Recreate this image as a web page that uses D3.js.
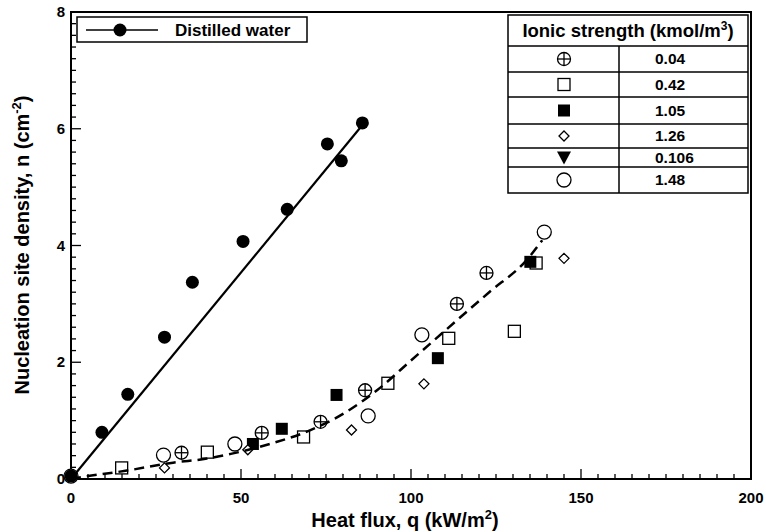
<!DOCTYPE html>
<html>
<head>
<meta charset="utf-8">
<script src="https://cdn.jsdelivr.net/npm/d3@7"></script>
<style>
body { margin:0; background:#fff; }
text { font-family: "Liberation Sans", Arial, sans-serif; font-weight: bold; fill:#000; }
</style>
</head>
<body>
<div class="graph"></div>
<script>
// distilled water points (q kW/m2, n cm-2)
var waterQ = [0, 9.1, 16.7, 27.5, 35.7, 50.6, 63.6, 75.4, 79.5, 85.7];
var waterN = [0.05, 0.80, 1.45, 2.43, 3.37, 4.07, 4.62, 5.74, 5.45, 6.10];
var waterFit = [[0, 0], [86.5, 6.12]];

// ionic strength series
var ionicLabels = ["0.04", "0.42", "1.05", "1.26", "0.106", "1.48"];
var ionicSymbols = ["crossCircle", "openSquare", "filledSquare", "diamond", "triangle", "openCircle"];
var s004Q = [32.5, 56.1, 73.4, 86.5, 113.5, 122.2];
var s004N = [0.45, 0.79, 0.98, 1.52, 3.00, 3.53];
var s042Q = [14.9, 40.1, 68.4, 93.2, 111.1, 130.4, 136.8];
var s042N = [0.19, 0.46, 0.72, 1.64, 2.41, 2.53, 3.70];
var s105Q = [53.5, 62.0, 78.1, 107.9, 135.1];
var s105N = [0.60, 0.86, 1.44, 2.07, 3.72];
var s126Q = [27.5, 52.0, 82.5, 103.8, 145.0];
var s126N = [0.19, 0.50, 0.84, 1.63, 3.78];
var s0106Q = [];
var s0106N = [];
var s148Q = [0, 27.2, 48.2, 87.4, 103.2, 139.2];
var s148N = [0.05, 0.41, 0.60, 1.08, 2.47, 4.23];
var ionicQ = [s004Q, s042Q, s105Q, s126Q, s0106Q, s148Q];
var ionicN = [s004N, s042N, s105N, s126N, s0106N, s148N];

// dashed trend curve
var trendQ = [0, 4, 16, 30, 40, 47, 59, 68, 81, 90, 100, 123, 134, 138.6];
var trendN = [0, 0.04, 0.14, 0.28, 0.35, 0.43, 0.61, 0.78, 1.15, 1.52, 2.03, 3.20, 3.75, 4.09];

var xTicks = [0, 50, 100, 150, 200];
var yTicks = [0, 2, 4, 6, 8];

var width = 766, height = 532;
var pLeft = 71, pRight = 751, pTop = 12, pBottom = 479;

var svg = d3.select(".graph").append("svg")
    .attr("width", width)
    .attr("height", height);

var x = d3.scaleLinear().domain([0, 200]).range([pLeft, pRight]);
var y = d3.scaleLinear().domain([0, 8]).range([pBottom, pTop]);

// frame
svg.append("rect")
    .attr("x", pLeft).attr("y", pTop)
    .attr("width", pRight - pLeft).attr("height", pBottom - pTop)
    .attr("fill", "none").attr("stroke", "#000").attr("stroke-width", 2);

// ticks, pointing inside
d3.range(0, 201, 5).forEach(function(v){
    var major = v % 50 == 0;
    svg.append("line")
        .attr("x1", x(v)).attr("x2", x(v))
        .attr("y1", pBottom).attr("y2", pBottom - (major ? 10 : 5))
        .attr("stroke", "#000").attr("stroke-width", 1.3);
});
d3.range(0, 41).forEach(function(i){
    var v = i * 0.2;
    var major = i % 10 == 0;
    svg.append("line")
        .attr("x1", pLeft).attr("x2", pLeft + (major ? 10 : 5))
        .attr("y1", y(v)).attr("y2", y(v))
        .attr("stroke", "#000").attr("stroke-width", 1.3);
});

svg.selectAll(".xlab").data(xTicks).enter().append("text")
    .attr("x", function(d){ return x(d); })
    .attr("y", 503)
    .attr("text-anchor", "middle")
    .attr("font-size", 15)
    .text(function(d){ return d; });

svg.selectAll(".ylab").data(yTicks).enter().append("text")
    .attr("x", 65)
    .attr("y", function(d){ return y(d) + 5; })
    .attr("text-anchor", "end")
    .attr("font-size", 15)
    .text(function(d){ return d; });

// axis titles
var xt = svg.append("text")
    .attr("x", 405).attr("y", 527)
    .attr("text-anchor", "middle").attr("font-size", 20);
xt.append("tspan").text("Heat flux, q (kW/m");
xt.append("tspan").attr("dy", -8).attr("font-size", 13).text("2");
xt.append("tspan").attr("dy", 8).text(")");

var yt = svg.append("text")
    .attr("transform", "translate(29,245) rotate(-90)")
    .attr("text-anchor", "middle").attr("font-size", 20);
yt.append("tspan").text("Nucleation site density, n (cm");
yt.append("tspan").attr("dy", -8).attr("font-size", 13).text("-2");
yt.append("tspan").attr("dy", 8).text(")");

// symbols
function drawSymbol(g, type, cx, cy){
    if(type == "crossCircle"){
        g.append("circle").attr("cx", cx).attr("cy", cy).attr("r", 6.5)
            .attr("fill", "#fff").attr("stroke", "#000").attr("stroke-width", 1.3);
        g.append("line").attr("x1", cx - 6.5).attr("x2", cx + 6.5).attr("y1", cy).attr("y2", cy)
            .attr("stroke", "#000").attr("stroke-width", 1.3);
        g.append("line").attr("x1", cx).attr("x2", cx).attr("y1", cy - 6.5).attr("y2", cy + 6.5)
            .attr("stroke", "#000").attr("stroke-width", 1.3);
    } else if(type == "openSquare"){
        g.append("rect").attr("x", cx - 6).attr("y", cy - 6).attr("width", 12).attr("height", 12)
            .attr("fill", "#fff").attr("stroke", "#000").attr("stroke-width", 1.3);
    } else if(type == "filledSquare"){
        g.append("rect").attr("x", cx - 6).attr("y", cy - 6).attr("width", 12).attr("height", 12)
            .attr("fill", "#000");
    } else if(type == "diamond"){
        g.append("path").attr("d", "M" + cx + "," + (cy - 5) + "L" + (cx + 5) + "," + cy + "L" + cx + "," + (cy + 5) + "L" + (cx - 5) + "," + cy + "Z")
            .attr("fill", "#fff").attr("stroke", "#000").attr("stroke-width", 1.3);
    } else if(type == "triangle"){
        g.append("path").attr("d", "M" + (cx - 7) + "," + (cy - 6) + "L" + (cx + 7) + "," + (cy - 6) + "L" + cx + "," + (cy + 7) + "Z")
            .attr("fill", "#000");
    } else if(type == "openCircle"){
        g.append("circle").attr("cx", cx).attr("cy", cy).attr("r", 7)
            .attr("fill", "#fff").attr("stroke", "#000").attr("stroke-width", 1.3);
    }
}

var pts = svg.append("g");
ionicQ.forEach(function(qs, k){
    qs.forEach(function(q, i){
        drawSymbol(pts, ionicSymbols[k], x(q), y(ionicN[k][i]));
    });
});

// dashed trend
svg.append("path")
    .datum(trendQ.map(function(q, i){ return [q, trendN[i]]; }))
    .attr("d", d3.line()
        .x(function(d){ return x(d[0]); })
        .y(function(d){ return y(d[1]); })
        .curve(d3.curveMonotoneX))
    .attr("fill", "none").attr("stroke", "#000")
    .attr("stroke-width", 2.5).attr("stroke-dasharray", "10,6");

// distilled water
svg.append("path")
    .datum(waterFit)
    .attr("d", d3.line().x(function(d){ return x(d[0]); }).y(function(d){ return y(d[1]); }))
    .attr("fill", "none").attr("stroke", "#000").attr("stroke-width", 2.2);

svg.selectAll(".water").data(waterQ).enter().append("circle")
    .attr("cx", function(d){ return x(d); })
    .attr("cy", function(d, i){ return y(waterN[i]); })
    .attr("r", 6.5)
    .attr("fill", "#000");

// distilled water legend
var lg = svg.append("g");
lg.append("rect").attr("x", 77).attr("y", 17).attr("width", 230).attr("height", 25)
    .attr("fill", "#fff").attr("stroke", "#000").attr("stroke-width", 1.5);
lg.append("line").attr("x1", 86).attr("x2", 158).attr("y1", 30).attr("y2", 30)
    .attr("stroke", "#000").attr("stroke-width", 1.5);
lg.append("circle").attr("cx", 120).attr("cy", 30).attr("r", 6.5).attr("fill", "#000");
lg.append("text").attr("x", 175).attr("y", 36).attr("font-size", 17).text("Distilled water");

// ionic strength table
var tx0 = 508, tx1 = 748, tcol = 619;
var rowY = [15, 46, 72, 97, 124, 148, 167, 193];
var tg = svg.append("g");
tg.append("rect").attr("x", tx0).attr("y", rowY[0]).attr("width", tx1 - tx0).attr("height", rowY[7] - rowY[0])
    .attr("fill", "#fff").attr("stroke", "#000").attr("stroke-width", 1.5);
rowY.slice(1, 7).forEach(function(ry){
    tg.append("line").attr("x1", tx0).attr("x2", tx1).attr("y1", ry).attr("y2", ry)
        .attr("stroke", "#000").attr("stroke-width", 1.5);
});
tg.append("line").attr("x1", tcol).attr("x2", tcol).attr("y1", rowY[1]).attr("y2", rowY[7])
    .attr("stroke", "#000").attr("stroke-width", 1.5);
var ht = tg.append("text").attr("x", (tx0 + tx1) / 2).attr("y", 37)
    .attr("text-anchor", "middle").attr("font-size", 18.5);
ht.append("tspan").text("Ionic strength (kmol/m");
ht.append("tspan").attr("dy", -7).attr("font-size", 12).text("3");
ht.append("tspan").attr("dy", 7).text(")");
ionicLabels.forEach(function(lab, i){
    var cy = (rowY[i + 1] + rowY[i + 2]) / 2;
    drawSymbol(tg, ionicSymbols[i], 564, cy);
    tg.append("text").attr("x", 655).attr("y", cy + 5).attr("font-size", 15.5).text(lab);
});
</script>
</body>
</html>
